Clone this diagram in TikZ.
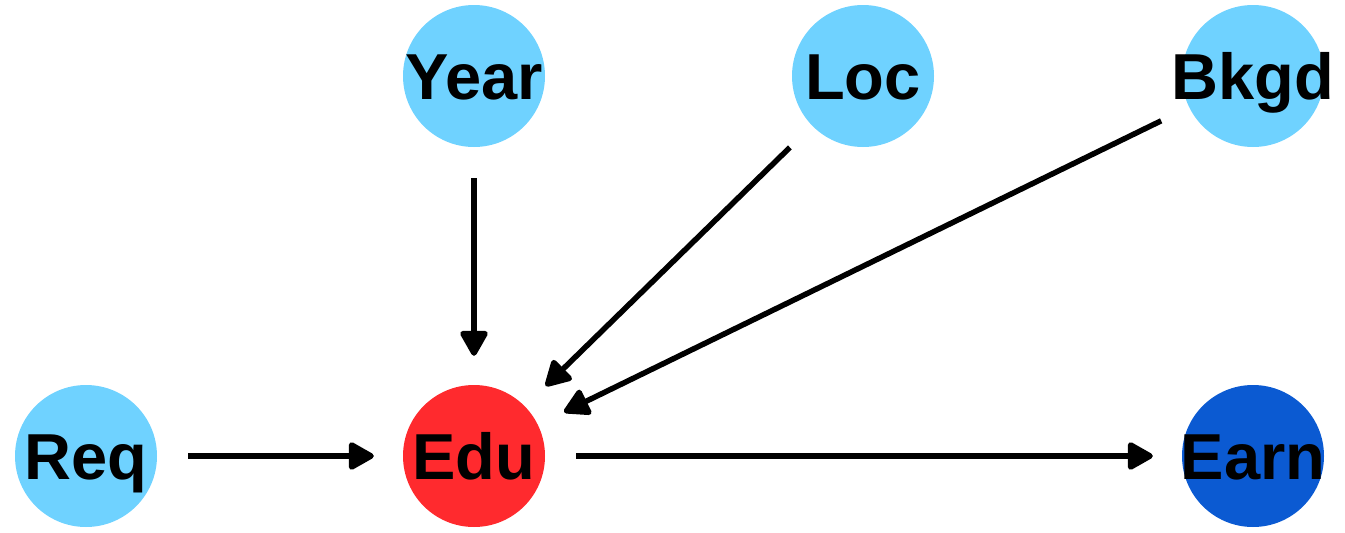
\documentclass[tikz,border=0pt]{standalone}
\usepackage{fontspec}
\setmainfont{Liberation Sans}
\usetikzlibrary{arrows.meta}
\definecolor{lb}{HTML}{6FD2FF}
\definecolor{rd}{HTML}{FF2A2E}
\definecolor{db}{HTML}{0B5AD2}
\begin{document}
\begin{tikzpicture}[x=1pt,y=-1pt,
  vert/.style={circle,minimum size=142pt,inner sep=0pt,draw=none,
    label={[font=\fontsize{65}{65}\selectfont\bfseries,inner sep=0pt,text height=47pt,text depth=0pt]center:#1}},
  conn/.style={line width=5.5pt,-{Triangle[length=28pt,width=30pt,round]},shorten <=31pt,shorten >=29pt}]
\useasboundingbox (0,0) rectangle (1345,533);
\node[vert=Year,fill=lb] (year) at (474,76) {};
\node[vert=Loc,fill=lb] (loc) at (863,76) {};
\node[vert=Bkgd,fill=lb] (bkgd) at (1253,76) {};
\node[vert=Req,fill=lb] (req) at (86,456) {};
\node[vert=Edu,fill=rd] (edu) at (474,456) {};
\node[vert=Earn,fill=db] (earn) at (1253,456) {};
\draw[conn] (year) -- (edu);
\draw[conn] (loc) -- (edu);
\draw[conn] (bkgd) -- (edu);
\draw[conn] (req) -- (edu);
\draw[conn] (edu) -- (earn);
\end{tikzpicture}
\end{document}
